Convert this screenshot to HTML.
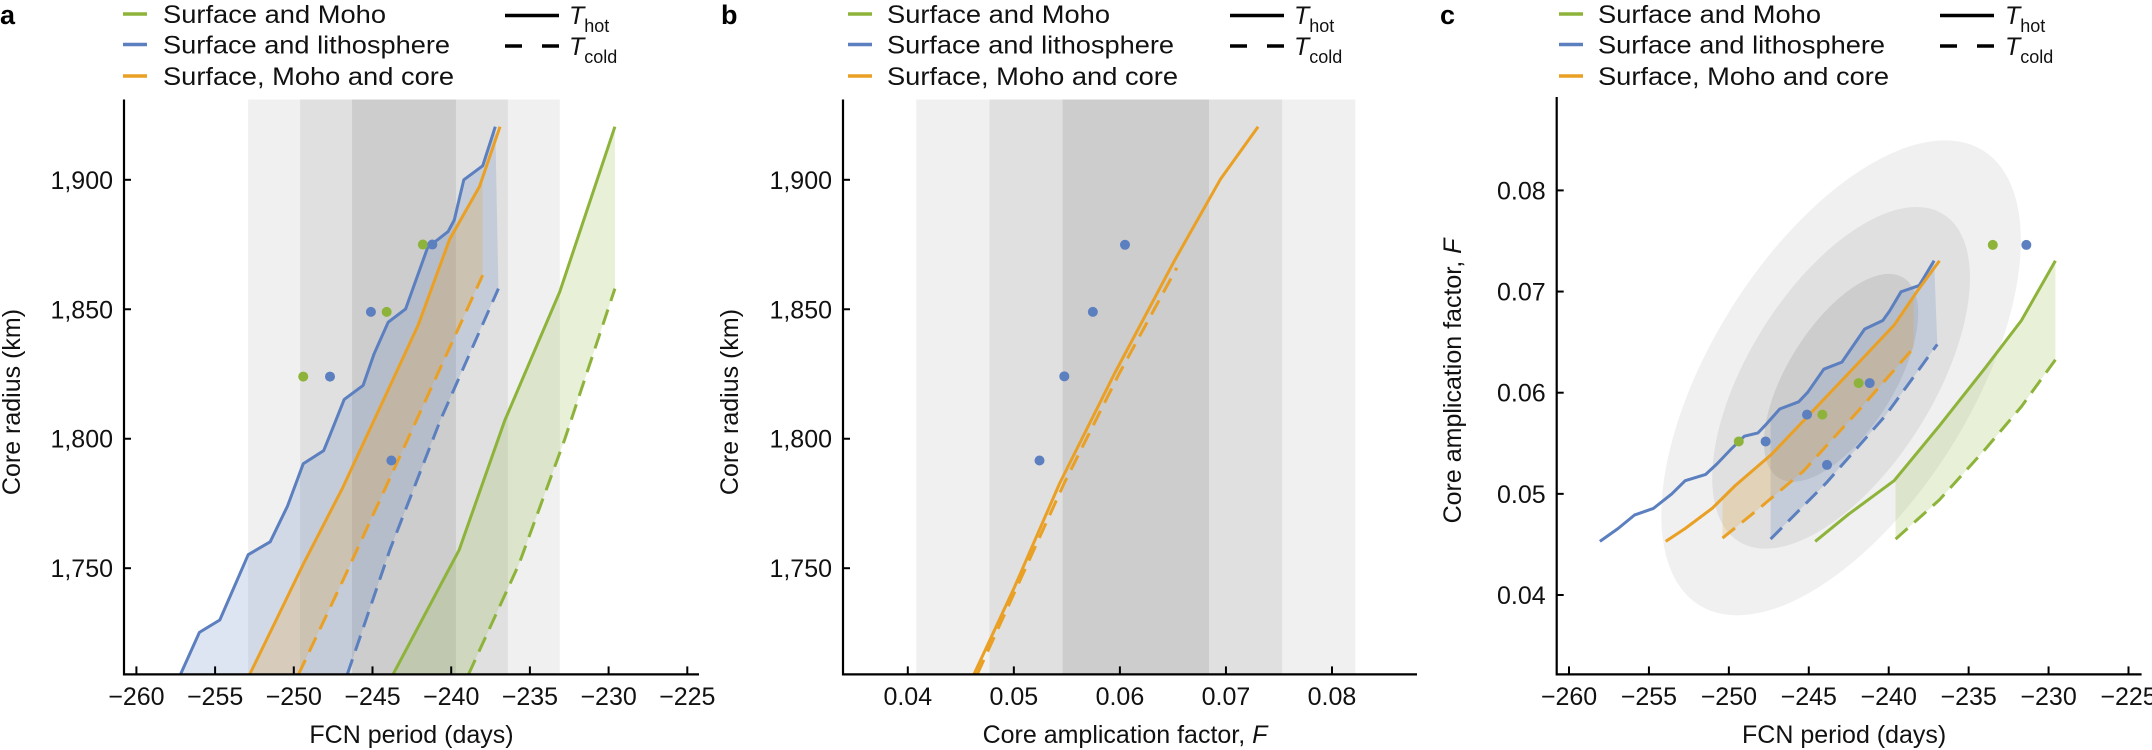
<!DOCTYPE html>
<html><head><meta charset="utf-8"><style>
html,body{margin:0;padding:0;background:#fff;}
svg{display:block;font-family:"Liberation Sans",Arial,sans-serif;}
</style></head><body>
<svg id="fig" width="2152" height="750" viewBox="0 0 2152 750" xmlns="http://www.w3.org/2000/svg"></svg>
<script>
// ---------- Panel a data (FCN period days, core radius km) ----------
const aBlueHotX=[-257.2,-256.0,-254.7,-252.9,-251.5,-250.4,-249.4,-248.1,-247.7,-246.8,-245.6,-244.9,-244.0,-242.9,-241.5,-240.2,-239.8,-239.2,-238.0,-237.2];
const aBlueHotY=[1709,1725.2,1730,1755.2,1760.2,1774,1790.3,1795.4,1801.4,1815.2,1820.6,1832.8,1845,1850.1,1873.8,1880,1884.5,1900,1905.4,1920.5];
const aBlueColdX=[-246.6,-243.9,-240.7,-237.0];
const aBlueColdY=[1709,1757,1807,1858];
const aOrangeHotX=[-252.8,-251.2,-249.4,-246.9,-244.5,-242.1,-240.1,-238.2,-236.9];
const aOrangeHotY=[1709,1729,1751.5,1781,1812.4,1843.8,1877,1897.4,1920.5];
const aOrangeColdX=[-249.7,-246.9,-243.9,-240.7,-238.0];
const aOrangeColdY=[1709,1745,1784.7,1827.2,1863.2];
const aGreenHotX=[-243.7,-239.5,-236.6,-233.1,-229.6];
const aGreenHotY=[1709,1757,1807,1856.8,1920.5];
const aGreenColdX=[-238.9,-235.7,-232.8,-229.6];
const aGreenColdY=[1709,1751.5,1799.5,1858];
const aDotX=[-241.8,-241.2,-245.1,-244.1,-249.4,-247.7,-243.8];
const aDotY=[1875,1875,1849,1849,1824,1824,1791.6];
const aDotSeries=["green","blue","blue","green","green","blue","blue"];
const aBandCenter=-243.0;
const aBandHalf=[9.9,6.6,3.3];
// ---------- Panel b data (F, core radius) ----------
const bOrangeHotX=[0.04623,0.05,0.05433,0.05952,0.06515,0.06948,0.07303];
const bOrangeHotY=[1709,1742.2,1782.9,1825.4,1868.8,1900.2,1920.5];
const bOrangeColdX=[0.04654,0.05476,0.05996,0.06537];
const bOrangeColdY=[1709,1782.9,1825.4,1866];
const bDotX=[0.06048,0.05745,0.05476,0.05242];
const bDotY=[1874.9,1849,1824.1,1791.6];
const bBandCenter=0.0615;
const bBandHalf=[0.0207,0.0138,0.0069];
// ---------- Panel c data (FCN period days, F) ----------
const cBlueHotX=[-258.07,-256.93,-255.91,-254.72,-253.58,-252.73,-251.45,-250.74,-249.89,-249.03,-248.18,-247.61,-246.82,-245.63,-245.06,-244.06,-242.93,-241.51,-240.37,-239.94,-239.23,-238.10,-237.16];
const cBlueHotY=[0.0453,0.04657,0.0479,0.04856,0.04998,0.0513,0.05192,0.05296,0.05437,0.0557,0.05603,0.05697,0.05839,0.0591,0.06005,0.06232,0.06303,0.06629,0.06714,0.06809,0.06998,0.07059,0.07305];
const cBlueColdX=[-247.39,-243.92,-240.23,-236.96];
const cBlueColdY=[0.04553,0.05106,0.05768,0.06478];
const cOrangeHotX=[-253.95,-252.73,-251.02,-249.6,-247.33,-245.34,-243.35,-241.51,-239.66,-238.24,-236.82];
const cOrangeHotY=[0.0453,0.04657,0.0486,0.05083,0.0539,0.05721,0.06052,0.06359,0.06667,0.06998,0.07305];
const cOrangeColdX=[-250.4,-248.18,-245.34,-241.93,-238.44];
const cOrangeColdY=[0.04563,0.04846,0.05225,0.05816,0.06444];
const cGreenHotX=[-244.6,-242.5,-239.66,-236.82,-233.98,-231.7,-229.57];
const cGreenHotY=[0.0453,0.048,0.0513,0.05674,0.06241,0.06714,0.07305];
const cGreenColdX=[-239.57,-236.82,-233.98,-231.7,-229.57];
const cGreenColdY=[0.04553,0.04941,0.05437,0.05863,0.06326];
const cDotX=[-249.38,-247.7,-245.11,-244.15,-241.88,-241.19,-243.86,-233.49,-231.39];
const cDotY=[0.05518,0.05518,0.05783,0.05783,0.06095,0.06095,0.05286,0.07461,0.07461];
const cDotSeries=["green","blue","blue","green","green","blue","blue","green","blue"];
const cEllipseX=-242.98, cEllipseY=0.06147;
const cEllipseScale=[1,0.72,0.44];
// tick labels
const xTicksDays=[-260,-255,-250,-245,-240,-235,-230,-225];
const xTickLabelsDays=["\u2212260","\u2212255","\u2212250","\u2212245","\u2212240","\u2212235","\u2212230","\u2212225"];
const yTicksR=[1750,1800,1850,1900];
const yTickLabelsR=["1,750","1,800","1,850","1,900"];
const xTicksF=[0.04,0.05,0.06,0.07,0.08];
const xTickLabelsF=["0.04","0.05","0.06","0.07","0.08"];
const yTicksF=[0.04,0.05,0.06,0.07,0.08];
const yTickLabelsF=["0.04","0.05","0.06","0.07","0.08"];

const COL={green:"#8db33a",blue:"#5b7fbf",orange:"#e9a024"};
const FILL={green:"rgba(141,179,58,0.2)",blue:"rgba(91,127,191,0.2)",orange:"rgba(233,160,36,0.22)"};
const NS="http://www.w3.org/2000/svg";
const svg=document.getElementById('fig');
function mk(tag,attrs,parent){const e=document.createElementNS(NS,tag);for(const k in attrs)e.setAttribute(k,attrs[k]);(parent||svg).appendChild(e);return e;}
function lin(d0,d1,r0,r1){return v=>r0+(v-d0)*(r1-r0)/(d1-d0);}

function panel(cfg){
  const g=mk('g',{});
  
  
  const X=cfg.X,Y=cfg.Y;
  return {g,X,Y};
}
function pathD(xs,ys,X,Y){return xs.map((v,i)=>(i?'L':'M')+X(v).toFixed(1)+','+Y(ys[i]).toFixed(1)).join('');}
function interp(xs,ys,x){for(let i=0;i<xs.length-1;i++){if(x>=xs[i]&&x<=xs[i+1]){const t=(x-xs[i])/(xs[i+1]-xs[i]);return ys[i]+t*(ys[i+1]-ys[i]);}}return x<xs[0]?ys[0]:ys[ys.length-1];}
function fillBetween(g,hx,hy,cx,cy,X,Y,color,name,useMin){
  const xmax=cx[cx.length-1], xmin=useMin?cx[0]:-Infinity;
  const pts=[];
  if(useMin) pts.push([xmin,interp(hx,hy,xmin)]);
  hx.forEach((v,i)=>{if(v>=xmin&&v<=xmax)pts.push([v,hy[i]]);});
  if(hx[hx.length-1]>xmax) pts.push([xmax,interp(hx,hy,xmax)]);
  for(let i=cx.length-1;i>=0;i--)pts.push([cx[i],cy[i]]);
  const p=mk('path',{d:pts.map((q,i)=>(i?'L':'M')+X(q[0]).toFixed(1)+','+Y(q[1]).toFixed(1)).join('')+'Z',fill:FILL[color],stroke:'none'},g);
  
  
}
function line(g,xs,ys,X,Y,color,dashed,name){
  const p=mk('path',{d:pathD(xs,ys,X,Y),fill:'none',stroke:COL[color],'stroke-width':3,'stroke-linejoin':'round'},g);
  if(dashed)p.setAttribute('stroke-dasharray','16 9');
  
  
}
function dots(g,xs,ys,series,X,Y,name){
  xs.forEach((v,i)=>{const c=mk('circle',{cx:X(v),cy:Y(ys[i]),r:5,fill:COL[series[i]]},g);
    
    });
}
function axes(g,L,R,T,B,X,Y,xt,xl,yt,yl,xtitle,ytitle,ytx,yty){
  const ax=mk('path',{d:`M${L},${T}L${L},${B}L${R},${B}`,fill:'none',stroke:'#000','stroke-width':2.2},g);
  
  
  xt.forEach((v,i)=>{mk('line',{x1:X(v),x2:X(v),y1:B,y2:B-8,stroke:'#000','stroke-width':2},g);
    const t=mk('text',{x:X(v),y:705,'font-size':25,'text-anchor':'middle',fill:'#111'},g);t.textContent=xl[i];
    
    });
  yt.forEach((v,i)=>{mk('line',{x1:L,x2:L+7,y1:Y(v),y2:Y(v),stroke:'#000','stroke-width':2},g);
    const t=mk('text',{x:L-11,y:Y(v)+9,'font-size':25,'text-anchor':'end',fill:'#111'},g);t.textContent=yl[i];
    
    });
  const xtT=mk('text',{x:(L+R)/2+(xtitle.cx||0),y:743,'font-size':25,'text-anchor':'middle',fill:'#111'},g);
  xtT.innerHTML=xtitle.html;
  
  
  const ytT=mk('text',{x:0,y:0,'font-size':25,'text-anchor':'middle',fill:'#111',transform:`translate(${ytx},${yty}) rotate(-90)`},g);
  ytT.innerHTML=ytitle;
  
  
}
function legend(g,lx,tx,Tx,TLx,letter,letterX){
  const items=[["green","Surface and Moho",223],["blue","Surface and lithosphere",287],["orange","Surface, Moho and core",291]];
  const ys=[14,44.5,76];
  items.forEach((it,i)=>{
    const l=mk('line',{x1:lx,x2:lx+24,y1:ys[i],y2:ys[i],stroke:COL[it[0]],'stroke-width':3.5},g);
    
    
    const t=mk('text',{x:tx,y:ys[i]+9,'font-size':25,fill:'#111',textLength:it[2],lengthAdjust:'spacingAndGlyphs'},g);
    t.textContent=it[1];
    
    
  });
  const s=mk('line',{x1:TLx,x2:TLx+54,y1:15.5,y2:15.5,stroke:'#000','stroke-width':3.5},g);
  
  
  const d=mk('line',{x1:TLx,x2:TLx+54,y1:46,y2:46,stroke:'#000','stroke-width':3.5,'stroke-dasharray':'17 20'},g);
  
  
  const t1=mk('text',{x:Tx,y:24,'font-size':25,fill:'#111'},g);
  t1.innerHTML='<tspan font-style="italic">T</tspan><tspan dy="8" font-size="18">hot</tspan>';
  
  
  const t2=mk('text',{x:Tx,y:55,'font-size':25,fill:'#111'},g);
  t2.innerHTML='<tspan font-style="italic">T</tspan><tspan dy="8" font-size="18">cold</tspan>';
  
  
  const pl=mk('text',{x:letterX,y:24,'font-size':27,'font-weight':'bold',fill:'#000'},g);
  pl.textContent=letter;
  
  
}
function bands(g,center,halfs,X,T,B,name){
  const cols=['#f0f0f0','#e0e0e0','#cdcdcd'];
  halfs.forEach((h,i)=>{const r=mk('rect',{x:X(center-h),y:T,width:X(center+h)-X(center-h),height:B-T,fill:cols[i]},g);
    
    });
}
const T=99.5,B=674.4;
// ----- Panel a -----
(function(){
  const X=lin(-260,-225,136.4,687.3), Y=lin(1750,1900,568.2,179.8);
  const {g}=panel({name:'panel-a',X,Y});
  bands(g,aBandCenter,aBandHalf,X,T,B,'fcn-band');
  fillBetween(g,aBlueHotX,aBlueHotY,aBlueColdX,aBlueColdY,X,Y,'blue','fill-lithosphere',false);
  fillBetween(g,aGreenHotX,aGreenHotY,aGreenColdX,aGreenColdY,X,Y,'green','fill-moho',false);
  fillBetween(g,aOrangeHotX,aOrangeHotY,aOrangeColdX,aOrangeColdY,X,Y,'orange','fill-core',false);
  line(g,aBlueHotX,aBlueHotY,X,Y,'blue',false,'lithosphere-hot-line');
  line(g,aBlueColdX,aBlueColdY,X,Y,'blue',true,'lithosphere-cold-line');
  line(g,aOrangeHotX,aOrangeHotY,X,Y,'orange',false,'core-hot-line');
  line(g,aOrangeColdX,aOrangeColdY,X,Y,'orange',true,'core-cold-line');
  line(g,aGreenHotX,aGreenHotY,X,Y,'green',false,'moho-hot-line');
  line(g,aGreenColdX,aGreenColdY,X,Y,'green',true,'moho-cold-line');
  dots(g,aDotX,aDotY,aDotSeries,X,Y,'model-point');
  axes(g,124,699,T,B,X,Y,xTicksDays,xTickLabelsDays,yTicksR,yTickLabelsR,{html:'FCN period (days)',cx:0},'Core radius (km)',20,402);
  legend(g,123,163,569,505,'a',0);
})();
// ----- Panel b -----
(function(){
  const X=lin(0.04,0.08,907.8,1332), Y=lin(1750,1900,568.2,179.8);
  const {g}=panel({name:'panel-b',X,Y});
  bands(g,bBandCenter,bBandHalf,X,T,B,'f-band');
  line(g,bOrangeColdX,bOrangeColdY,X,Y,'orange',true,'core-cold-line');
  line(g,bOrangeHotX,bOrangeHotY,X,Y,'orange',false,'core-hot-line');
  dots(g,bDotX,bDotY,bDotX.map(()=>'blue'),X,Y,'model-point');
  axes(g,843,1417,T,B,X,Y,xTicksF,xTickLabelsF,yTicksR,yTickLabelsR,{html:'Core amplication factor, <tspan font-style="italic">F</tspan>',cx:-5},'Core radius (km)',738,402);
  legend(g,848,887,1294,1230,'b',721);
})();
// ----- Panel c -----
(function(){
  const X=lin(-260,-225,1569,2128.5), Y=lin(0.04,0.08,595,190.4);
  const {g}=panel({name:'panel-c',X,Y});
  const cx=X(cEllipseX), cy=Y(cEllipseY);
  const cols=['#f0f0f0','#e0e0e0','#cdcdcd'];
  cEllipseScale.forEach((s,i)=>{
    const e=mk('ellipse',{cx:0,cy:0,rx:268*s,ry:[130,92.5/0.72,53.3/0.44][i]*s,fill:cols[i],transform:`translate(${cx},${cy}) rotate(-58)`},g);
    
    
  });
  fillBetween(g,cBlueHotX,cBlueHotY,cBlueColdX,cBlueColdY,X,Y,'blue','fill-lithosphere',true);
  fillBetween(g,cGreenHotX,cGreenHotY,cGreenColdX,cGreenColdY,X,Y,'green','fill-moho',true);
  fillBetween(g,cOrangeHotX,cOrangeHotY,cOrangeColdX,cOrangeColdY,X,Y,'orange','fill-core',true);
  line(g,cBlueHotX,cBlueHotY,X,Y,'blue',false,'lithosphere-hot-line');
  line(g,cBlueColdX,cBlueColdY,X,Y,'blue',true,'lithosphere-cold-line');
  line(g,cOrangeHotX,cOrangeHotY,X,Y,'orange',false,'core-hot-line');
  line(g,cOrangeColdX,cOrangeColdY,X,Y,'orange',true,'core-cold-line');
  line(g,cGreenHotX,cGreenHotY,X,Y,'green',false,'moho-hot-line');
  line(g,cGreenColdX,cGreenColdY,X,Y,'green',true,'moho-cold-line');
  dots(g,cDotX,cDotY,cDotSeries,X,Y,'model-point');
  axes(g,1556.7,2141.6,97,B,X,Y,xTicksDays,xTickLabelsDays,yTicksF,yTickLabelsF,{html:'FCN period (days)',cx:-5},'Core amplication factor, <tspan font-style="italic">F</tspan>',1461,381);
  legend(g,1559,1598,2005,1940,'c',1440);
})();
</script>
</body></html>
